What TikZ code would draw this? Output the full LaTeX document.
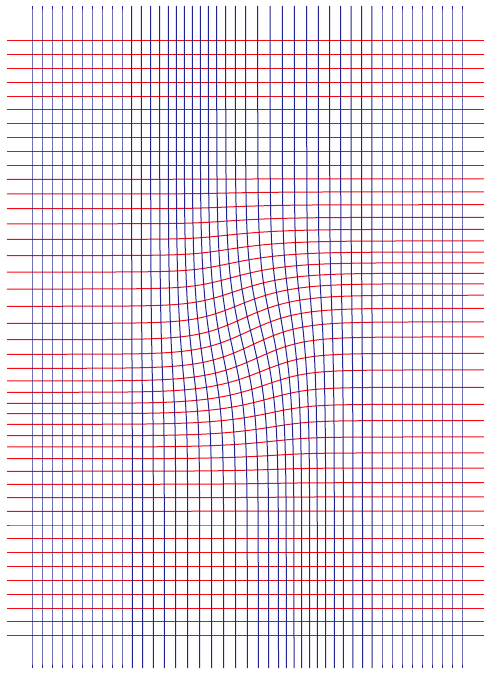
\documentclass[tikz,border=0pt]{standalone}
\definecolor{hred}{RGB}{245,10,20}
\definecolor{vblue}{RGB}{35,35,145}
\begin{document}
\begin{tikzpicture}[x=1pt,y=-1pt,
  hline/.style={draw=hred, line width=1pt},
  vline/.style={draw=vblue, line width=1pt}]
\useasboundingbox (0,0) rectangle (484,674);
\def\cx{250}\def\cy{338}\def\wT{50}\def\wS{70}\def\A{16.8}\def\sx{44}\def\B{23.3}\def\sy{58.4}
% horizontal (red) lines: index / left-edge vertical offset
\foreach \i/\bi in {0/0,1/0,2/0,3/0,4/0,5/0,6/0,7/0,8/0,9/0,10/0.2,11/1.0,12/2.0,13/3.2,14/5.0,15/7.3,16/10.0,17/13.1,18/16.5,19/19.8,20/22.2,21/23.0,22/23.2,23/22.0,24/19.5,25/16.7,26/13.2,27/10.0,28/7.6,29/5.0,30/2.9,31/1.6,32/0.8,33/0.4,34/0.1,35/0,36/0,37/0,38/0,39/0,40/0,41/0,42/0,43/0}{
  \pgfmathsetmacro\yo{40.7+13.837*\i}
  \pgfmathsetmacro\Sy{-tanh((\yo-\cy)/\wS)}
  \draw[hline] plot[domain=7:484, samples=90, variable=\t]
    ({\t-\A*exp(-0.5*((\t-\cx)/\sx)*((\t-\cx)/\sx))*\Sy}, {\yo-(\bi)*tanh((\t-\cx)/\wT)});
}
% vertical (blue) lines: index / top-edge horizontal offset
\foreach \k/\ak in {0/0,1/0,2/0,3/0,4/0,5/0,6/0,7/0,8/0,9/0,10/-0.3,11/-0.7,12/-1.3,13/-2.3,14/-3.7,15/-5.7,16/-7.7,17/-9.7,18/-11.7,19/-13.7,20/-15.3,21/-16.3,22/-16.7,23/-16.5,24/-14.3,25/-12.0,26/-9.7,27/-7.7,28/-5.3,29/-3.7,30/-2.3,31/-1.3,32/-0.9,33/-0.5,34/-0.2,35/0,36/0,37/0,38/0,39/0,40/0,41/0,42/0,43/0}{
  \pgfmathsetmacro\xo{32+10*\k}
  \pgfmathsetmacro\Tx{-tanh((\xo-\cx)/\wT)}
  \draw[vline] plot[domain=6:668, samples=110, variable=\t]
    ({\xo-(\ak)*tanh((\t-\cy)/\wS)}, {\t+\B*exp(-0.5*((\t-\cy)/\sy)*((\t-\cy)/\sy))*\Tx});
}
\end{tikzpicture}
\end{document}
